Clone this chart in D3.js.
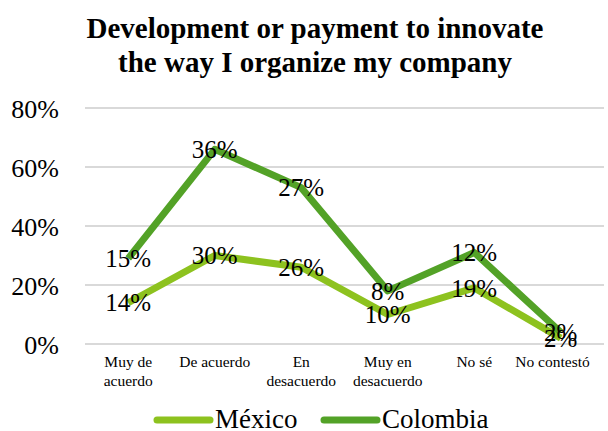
<!DOCTYPE html>
<html>
<head>
<meta charset="utf-8">
<script src="https://cdn.jsdelivr.net/npm/d3@7"></script>
<style>
  html, body { margin: 0; padding: 0; background: #fff; }
  svg { display: block; }
</style>
</head>
<body>
<svg id="chart" width="608" height="431"></svg>
<script>
// Survey answers, share of respondents per country (percent)
const categories = [["Muy de", "acuerdo"], ["De acuerdo"], ["En", "desacuerdo"], ["Muy en", "desacuerdo"], ["No sé"], ["No contestó"]];
const mexico = [14, 30, 26, 10, 19, 2];
const colombia = [15, 36, 27, 8, 12, 2];
const seriesNames = ["México", "Colombia"];
const yTicks = [0, 20, 40, 60, 80];

const colors = ["#8dc21f", "#53a227"];
const serif = '"Liberation Serif", "Times New Roman", serif';

const svg = d3.select("#chart");
const W = 608, H = 431;
const margin = { left: 85, right: 4, top: 108, bottom: 87 };

const keys = categories.map(c => c.join(" "));
const x = d3.scaleBand().domain(keys).range([margin.left, W - margin.right]);
const y = d3.scaleLinear().domain([0, 80]).range([H - margin.bottom, margin.top]);

// Title
svg.append("text")
  .attr("text-anchor", "middle")
  .style("font-family", serif).style("font-weight", "bold").style("font-size", "29px")
  .attr("fill", "#000")
  .selectAll("tspan")
  .data(["Development or payment to innovate", "the way I organize my company"])
  .join("tspan")
  .attr("x", 315).attr("y", (d, i) => 38 + i * 34)
  .text(d => d);

// Gridlines
svg.append("g").selectAll("line")
  .data(yTicks).join("line")
  .attr("x1", margin.left).attr("x2", W - margin.right)
  .attr("y1", d => y(d)).attr("y2", d => y(d))
  .attr("stroke", "#d9d9d9").attr("stroke-width", 2);

// Y axis
const yAxis = svg.append("g")
  .attr("transform", `translate(59,0)`)
  .call(d3.axisLeft(y).tickValues(yTicks).tickFormat(d => d + "%").tickSize(0).tickPadding(0));
yAxis.select(".domain").remove();
yAxis.selectAll("text")
  .style("font-family", serif).style("font-size", "26px").attr("fill", "#000").attr("dy", "0.35em");

// X axis category labels
const xAxis = svg.append("g")
  .attr("transform", `translate(0,${H - margin.bottom})`)
  .call(d3.axisBottom(x).tickSize(0).tickFormat(() => ""));
xAxis.select(".domain").remove();
xAxis.selectAll(".tick").each(function (d, i) {
  const t = d3.select(this).append("text")
    .attr("fill", "#000").attr("text-anchor", "middle")
    .style("font-family", serif).style("font-size", "15.5px");
  categories[i].forEach((line, j) => {
    t.append("tspan").attr("x", 0).attr("y", 23 + j * 19).text(line);
  });
  // keep the label inside the plot's right edge
  const tx = x(d) + x.bandwidth() / 2;
  const bb = t.node().getBBox();
  const overflow = tx + bb.x + bb.width - 590;
  if (overflow > 0) t.attr("transform", `translate(${-overflow},0)`);
});

// Stacked series: Colombia sits on top of México
const table = keys.map((k, i) => ({ key: k, "México": mexico[i], "Colombia": colombia[i] }));
const stack = d3.stack().keys(seriesNames)(table);

const cx = k => x(k) + x.bandwidth() / 2;
const line = d3.line().x(d => cx(d.data.key)).y(d => y(d[1]));

svg.append("g").selectAll("path")
  .data(stack).join("path")
  .attr("d", line)
  .attr("fill", "none")
  .attr("stroke", (d, i) => colors[i])
  .attr("stroke-width", 7)
  .attr("stroke-linejoin", "round");

// Value labels centred on each point
const raw = [mexico, colombia];
stack.forEach((s, si) => {
  svg.append("g").selectAll("text")
    .data(s).join("text")
    .attr("x", d => cx(d.data.key))
    .attr("y", d => y(d[1]))
    .attr("dy", "0.35em")
    .attr("text-anchor", "middle")
    .style("font-family", serif).style("font-size", "25px")
    .attr("fill", "#000")
    .text((d, i) => raw[si][i] + "%");
});

// Legend
const legend = svg.append("g");
const legendItems = [{ name: "México", x: 157 }, { name: "Colombia", x: 324 }];
legendItems.forEach((it, i) => {
  legend.append("line")
    .attr("x1", it.x).attr("x2", it.x + 53)
    .attr("y1", 420).attr("y2", 420)
    .attr("stroke", colors[i]).attr("stroke-width", 7).attr("stroke-linecap", "round");
  legend.append("text")
    .attr("x", it.x + 58).attr("y", 428)
    .style("font-family", serif).style("font-size", "27px").attr("fill", "#000")
    .text(it.name);
});
</script>
</body>
</html>
